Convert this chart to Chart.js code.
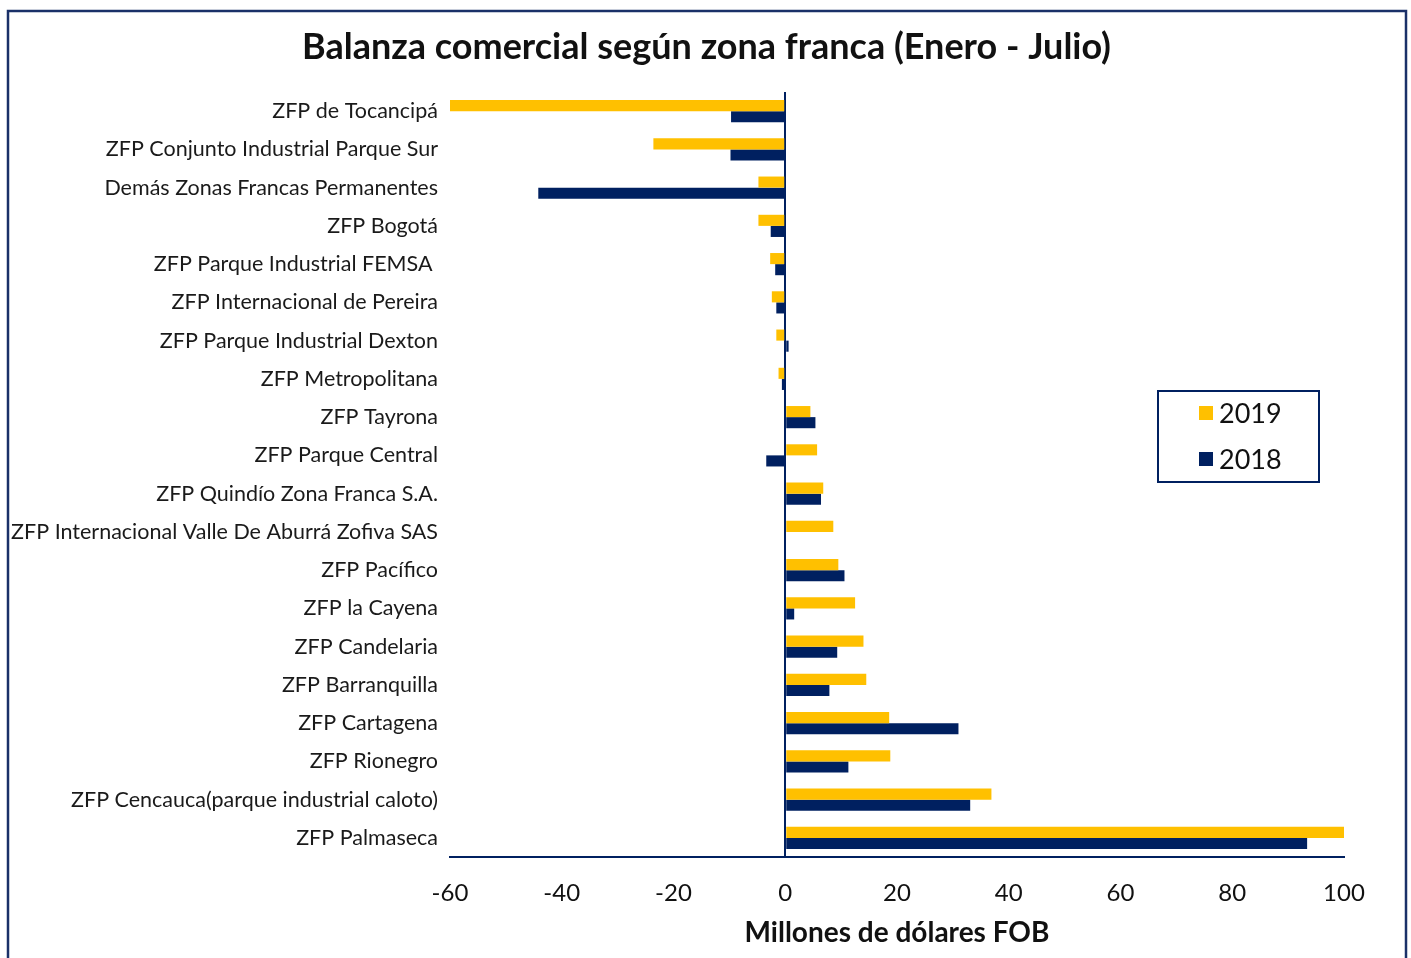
<!DOCTYPE html>
<html lang="es">
<head>
<meta charset="utf-8">
<title>Balanza comercial según zona franca</title>
<script src="https://cdn.jsdelivr.net/npm/chart.js@4.4.1/dist/chart.umd.min.js"></script>
<style>
  html, body { margin:0; padding:0; background:#fff; }
  canvas { display:block; }
</style>
</head>
<body>
<canvas id="chart-zf" width="1411" height="958"></canvas>
<script>
const categories = [
  'ZFP de Tocancipá',
  'ZFP Conjunto Industrial Parque Sur',
  'Demás Zonas Francas Permanentes',
  'ZFP Bogotá',
  'ZFP Parque Industrial FEMSA ',
  'ZFP Internacional de Pereira',
  'ZFP Parque Industrial Dexton',
  'ZFP Metropolitana',
  'ZFP Tayrona',
  'ZFP Parque Central',
  'ZFP Quindío Zona Franca S.A.',
  'ZFP Internacional Valle De Aburrá Zofiva SAS',
  'ZFP Pacífico',
  'ZFP la Cayena',
  'ZFP Candelaria',
  'ZFP Barranquilla',
  'ZFP Cartagena',
  'ZFP Rionegro',
  'ZFP Cencauca(parque industrial caloto)',
  'ZFP Palmaseca'
];
const values2019 = [-60, -23.6, -4.8, -4.8, -2.7, -2.4, -1.6, -1.2, 4.5, 5.7, 6.8, 8.6, 9.5, 12.5, 14.0, 14.5, 18.6, 18.8, 36.9, 100];
const values2018 = [-9.7, -9.8, -44.2, -2.6, -1.8, -1.6, 0.6, -0.6, 5.4, -3.4, 6.4, 0, 10.6, 1.6, 9.3, 7.9, 31.0, 11.3, 33.1, 93.4];
const xTicks = [-60, -40, -20, 0, 20, 40, 60, 80, 100];
const chartTitle = 'Balanza comercial según zona franca (Enero - Julio)';

const FONT = 'Lato, "Open Sans", sans-serif';
const NAVY = '#002060';
const GOLD = '#FFC000';
const FRAME = '#1a3068';

// white page, outer frame and the centred title
const framePlugin = {
  id:'frame',
  beforeDraw(chart){
    const ctx = chart.ctx;
    ctx.save();
    ctx.fillStyle = '#fff';
    ctx.fillRect(0, 0, chart.width, chart.height);
    ctx.strokeStyle = FRAME;
    ctx.lineWidth = 2.5;
    ctx.strokeRect(8, 11, 1398, 990);
    ctx.fillStyle = '#111';
    ctx.font = 'bold 36px ' + FONT;
    ctx.textAlign = 'center';
    ctx.textBaseline = 'middle';
    ctx.fillText(chartTitle, chart.width / 2 + 1, 47);
    ctx.restore();
  }
};

const boxLegend = {
  id:'boxLegend',
  afterDraw(chart){
    const ctx = chart.ctx;
    ctx.save();
    ctx.strokeStyle = NAVY;
    ctx.lineWidth = 2;
    ctx.strokeRect(1158, 391, 161, 91);
    ctx.font = '27px ' + FONT;
    ctx.textBaseline = 'middle';
    chart.data.datasets.forEach((ds, i) => {
      const y = 413 + i * 46;
      ctx.fillStyle = ds.backgroundColor;
      ctx.fillRect(1199, y - 7, 14, 14);
      ctx.fillStyle = '#111';
      ctx.fillText(ds.label, 1219, y + 1);
    });
    ctx.restore();
  }
};

new Chart(document.getElementById('chart-zf'), {
  type:'bar',
  data:{
    labels:categories,
    datasets:[{
      label:'2019',
      data:values2019,
      backgroundColor:GOLD,
      borderWidth:0,
      categoryPercentage:.58,
      barPercentage:1
    },{
      label:'2018',
      data:values2018,
      backgroundColor:NAVY,
      borderWidth:0,
      categoryPercentage:.58,
      barPercentage:1
    }]
  },
  options:{
    indexAxis:'y',
    responsive:false,
    animation:false,
    layout:{ padding:{ left:10, right:67, top:92, bottom:0 } },
    plugins:{
      legend:{ display:false },
      tooltip:{ enabled:false },
      title:{ display:false }
    },
    scales:{
      x:{
        min:-60, max:100,
        afterBuildTicks:scale => { scale.ticks = xTicks.map(v => ({ value:v })); },
        afterFit:scale => { scale.height = 101; },
        grid:{
          drawTicks:false,
          color:c => (c.tick && c.tick.value === 0) ? NAVY : 'rgba(0,0,0,0)',
          lineWidth:2
        },
        border:{ display:true, color:NAVY, width:2 },
        ticks:{ padding:22, maxRotation:0, autoSkip:false, color:'#111', font:{ family:FONT, size:24 } },
        title:{
          display:true,
          text:'Millones de dólares FOB',
          color:'#111',
          font:{ family:FONT, size:28, weight:'bold' },
          padding:{ top:0, bottom:8 }
        }
      },
      y:{
        afterFit:scale => { scale.width = 440; },
        grid:{ display:false, drawTicks:false },
        border:{ display:false },
        ticks:{ padding:12, autoSkip:false, color:'#1a1a1a', font:{ family:FONT, size:21.5 } }
      }
    }
  },
  plugins:[framePlugin, boxLegend]
});
</script>
</body>
</html>
